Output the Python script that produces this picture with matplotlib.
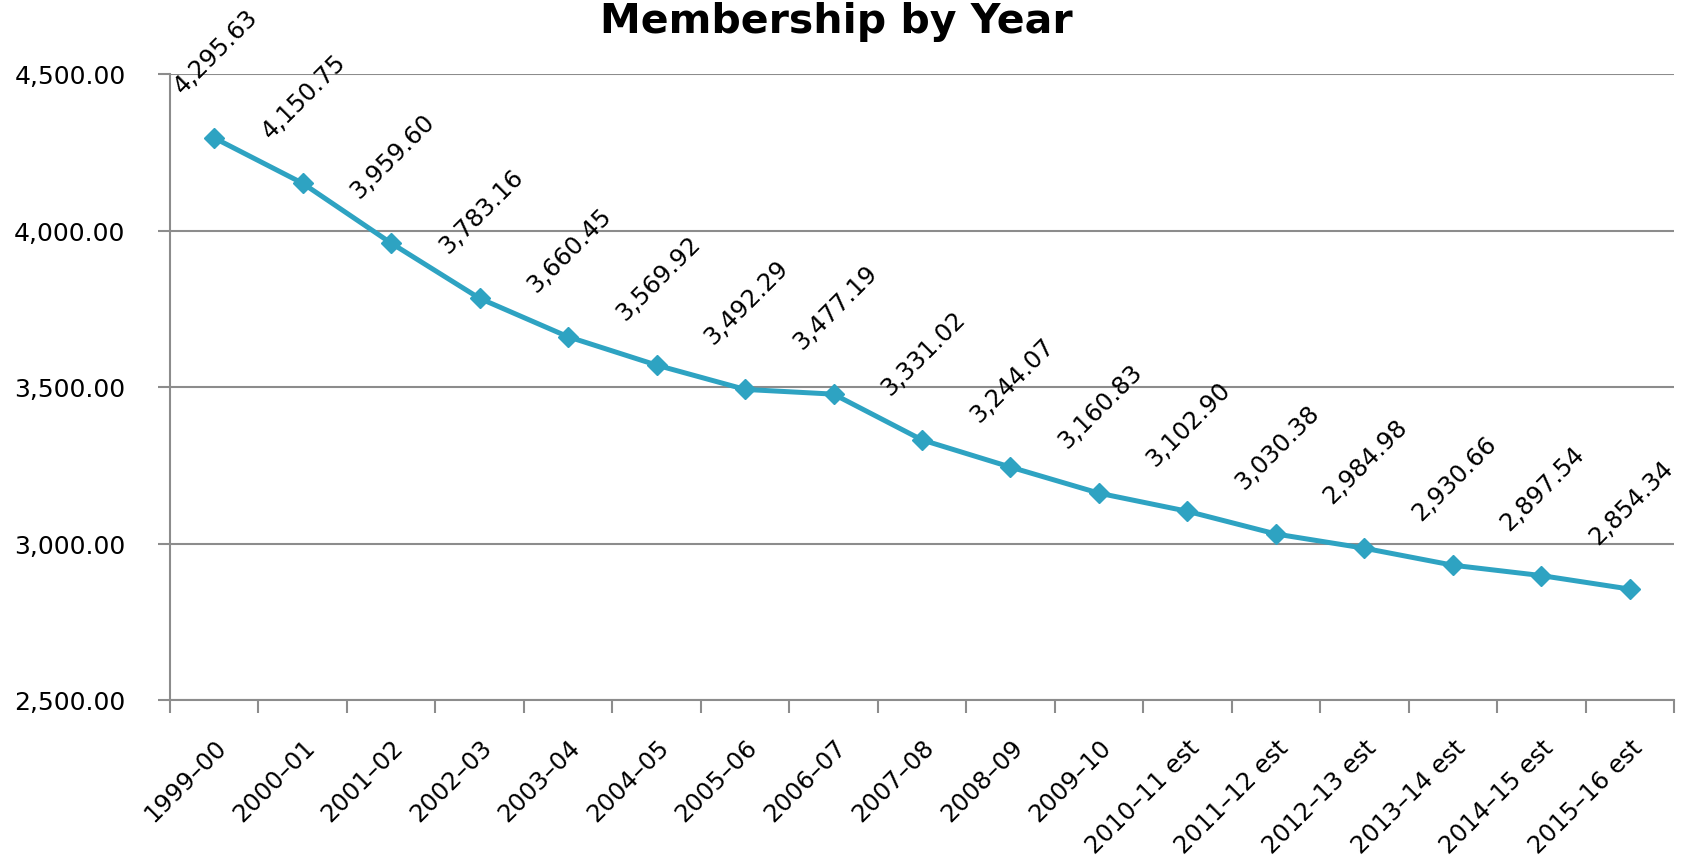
import matplotlib.pyplot as plt
import numpy as np

years = ["1999–00", "2000–01", "2001–02", "2002–03", "2003–04", "2004–05",
         "2005–06", "2006–07", "2007–08", "2008–09", "2009–10", "2010–11 est",
         "2011–12 est", "2012–13 est", "2013–14 est", "2014–15 est", "2015–16 est"]
membership = [4295.63, 4150.75, 3959.60, 3783.16, 3660.45, 3569.92, 3492.29,
              3477.19, 3331.02, 3244.07, 3160.83, 3102.90, 3030.38, 2984.98,
              2930.66, 2897.54, 2854.34]

line_color = "#2ea3c2"
grid_color = "#8c8c8c"

fig = plt.figure(figsize=(16.92, 8.62), dpi=100)
ax = fig.add_axes([170 / 1692, 1 - 701 / 862, (1674 - 170) / 1692, (701 - 75) / 862])

x = np.arange(len(years))
ax.plot(x, membership, color=line_color, lw=3.6, marker="D", markersize=10,
        zorder=3, clip_on=False)

for xi, v in zip(x, membership):
    ax.annotate(f"{v:,.2f}", (xi, v), xytext=(1, 63), textcoords="offset points",
                rotation=45, ha="center", va="center", fontsize=17.5,
                annotation_clip=False)

ax.set_xlim(-0.5, len(years) - 0.5)
ax.set_ylim(2500, 4500)
ax.set_yticks([2500, 3000, 3500, 4000, 4500])
ax.set_yticklabels([f"{t:,.2f}" for t in [2500, 3000, 3500, 4000, 4500]], fontsize=18)

# category boundaries get tick marks, centres get the labels
ax.set_xticks(np.arange(-0.5, len(years), 1.0))
ax.set_xticklabels([])
ax.set_xticks(x, minor=True)
ax.set_xticklabels(years, minor=True, rotation=45, ha="right",
                   rotation_mode="anchor", fontsize=17.5)
ax.tick_params(axis="x", which="minor", length=0, pad=25)
ax.tick_params(axis="x", which="major", length=9, width=1.5, color=grid_color)
ax.tick_params(axis="y", length=9, width=1.5, color=grid_color, pad=23)

ax.grid(axis="y", color=grid_color, lw=1.5)
ax.set_axisbelow(True)
for s in ["top", "right"]:
    ax.spines[s].set_visible(False)
for s in ["left", "bottom"]:
    ax.spines[s].set_color(grid_color)
    ax.spines[s].set_linewidth(1.5)

# title sits slightly lower than the original so it is not clipped
fig.text(836 / 1692, 1 - 33 / 862, "Membership by Year", ha="center",
         va="baseline", fontsize=29.5, fontweight="bold")

fig.savefig("out.png", dpi=100)
